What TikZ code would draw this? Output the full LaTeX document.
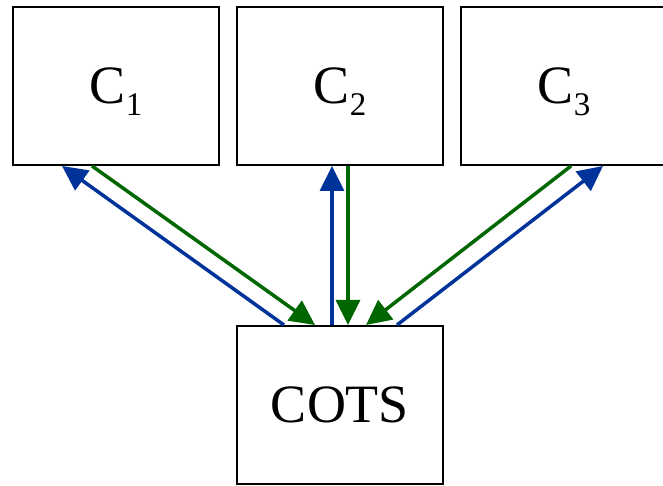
\documentclass[tikz,border=0pt]{standalone}
\usepackage{fontspec}
\setmainfont{Liberation Serif}
\usetikzlibrary{arrows.meta}
\definecolor{linkgreen}{HTML}{006600}
\definecolor{linkblue}{HTML}{003399}
\tikzstyle{basefont}=[font=\fontsize{54}{60}\selectfont]
\tikzstyle{unit}=[basefont, draw=black, line width=2pt, minimum width=206pt, minimum height=158pt, inner sep=0pt]
\tikzstyle{arrow}=[line width=3.5pt, -{Triangle[length=25pt, width=24pt]}]
\tikzstyle{request}=[arrow, draw=linkgreen, fill=linkgreen]
\tikzstyle{reply}=[arrow, draw=linkblue, fill=linkblue]
\newcommand*{\compsub}[1]{\raisebox{-0.22em}[\height][0pt]{\fontsize{33}{36}\selectfont #1}}
\begin{document}
\begin{tikzpicture}[x=1pt, y=1pt]
        \useasboundingbox (0,0) rectangle (663,486);

        % The shared component
        \node[unit] (cots) at (340,81) {COTS};

        % Row of clients
        \foreach \i in {1,2,3}{
            \pgfmathtruncatemacro\x{116+(\i-1)*224}
            \node[unit] (c\i) at (\x,400) {C\compsub{\i}};
        }

        % Links: green goes down to COTS, blue comes back up
        \foreach \i/\gs/\ge/\bs/\be in {
            1/-24/-25/-56/-54,
            2/8/8/-8/-8,
            3/7/26/57/39
        }{
            \draw[request] ([xshift=\gs]c\i.south) -- ([xshift=\ge]cots.north);
            \draw[reply] ([xshift=\bs]cots.north) -- ([xshift=\be]c\i.south);
        }
\end{tikzpicture}
\end{document}
